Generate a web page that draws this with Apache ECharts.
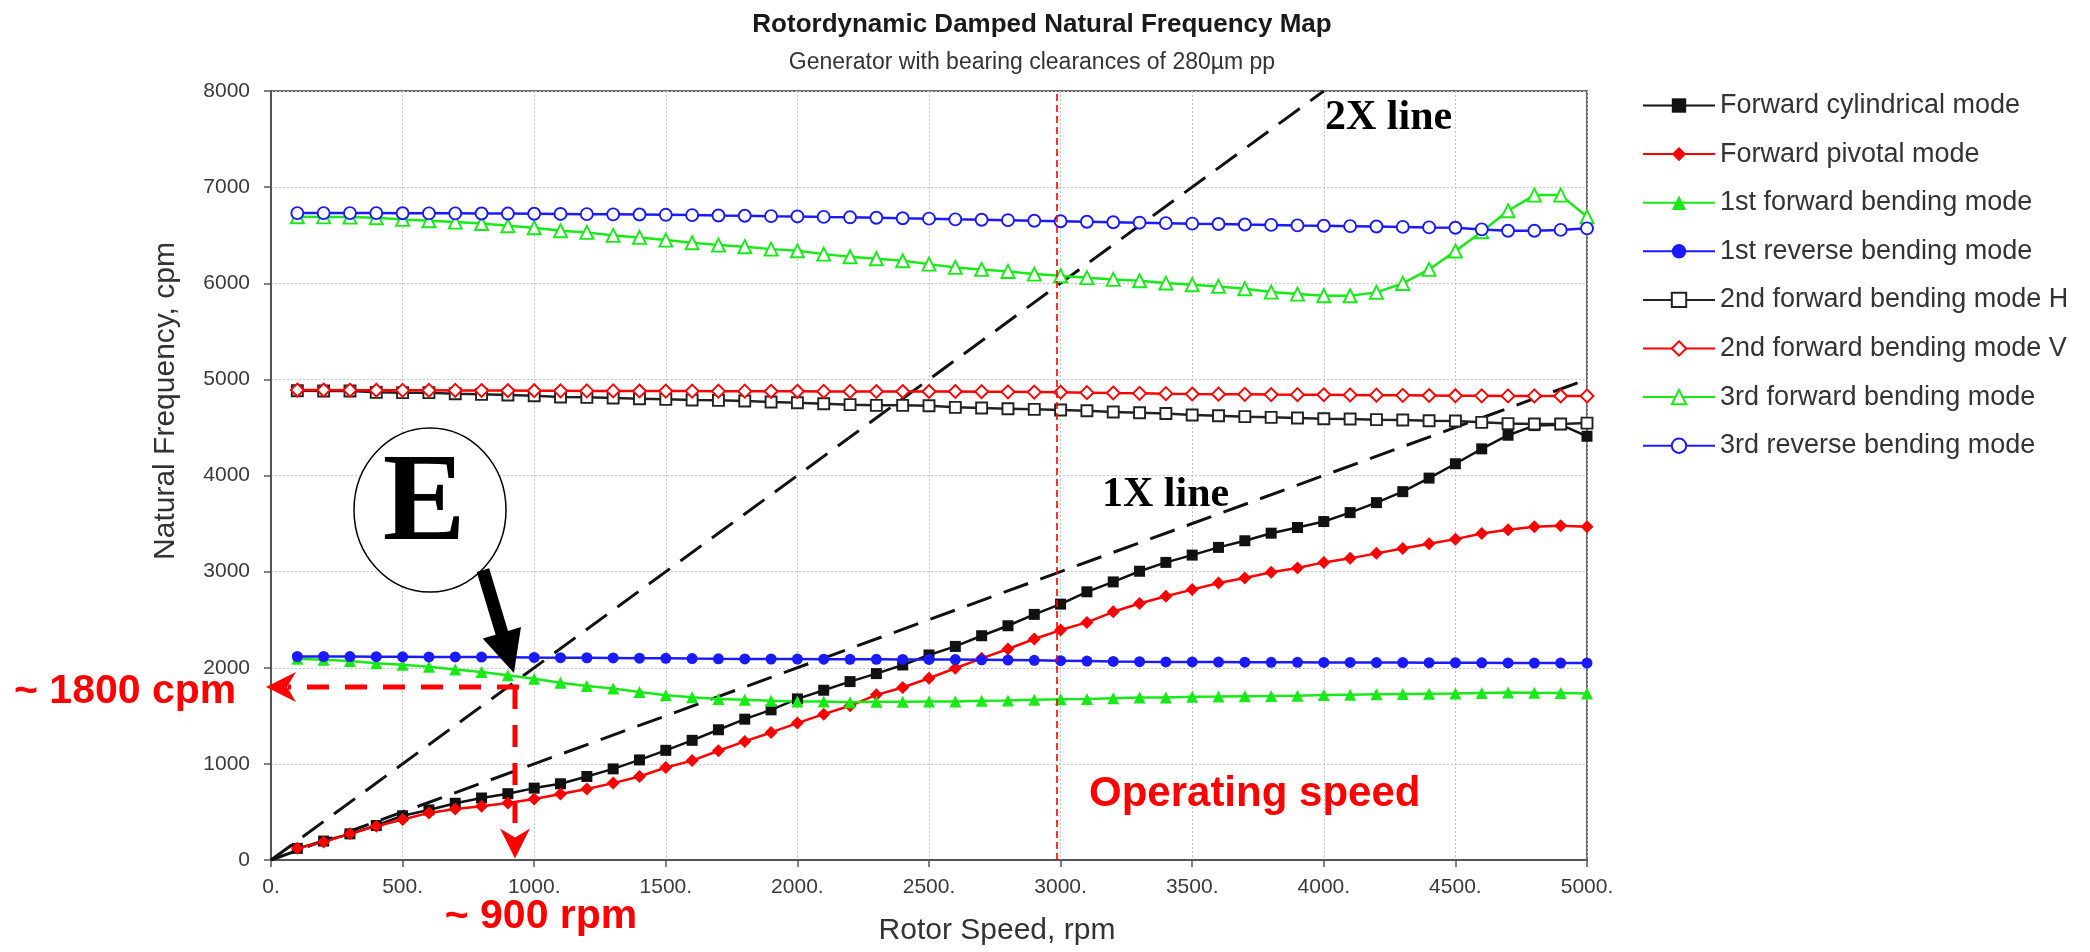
<!DOCTYPE html>
<html>
<head>
<meta charset="utf-8">
<title>Rotordynamic Damped Natural Frequency Map</title>
<script src="https://cdn.jsdelivr.net/npm/echarts@6/dist/echarts.min.js"></script>
<style>
  html, body { margin: 0; padding: 0; background: #fff; }
  #chart { width: 2090px; height: 952px; }
</style>
</head>
<body>
<div id="chart"></div>
<script>
// Rotor speed samples, rpm
const speed = [100, 200, 300, 400, 500, 600, 700, 800, 900, 1000,
  1100, 1200, 1300, 1400, 1500, 1600, 1700, 1800, 1900, 2000,
  2100, 2200, 2300, 2400, 2500, 2600, 2700, 2800, 2900, 3000,
  3100, 3200, 3300, 3400, 3500, 3600, 3700, 3800, 3900, 4000,
  4100, 4200, 4300, 4400, 4500, 4600, 4700, 4800, 4900, 5000];

// Damped natural frequencies, cpm
const fwdCylindrical = [121, 197, 272, 359, 460, 521, 590, 645, 690, 748,
  793, 869, 948, 1041, 1141, 1245, 1355, 1465, 1562, 1676,
  1766, 1856, 1939, 2029, 2133, 2222, 2333, 2437, 2555, 2662,
  2790, 2893, 3004, 3096, 3172, 3252, 3321, 3400, 3459, 3521,
  3614, 3718, 3832, 3973, 4122, 4277, 4419, 4519, 4529, 4408];
const fwdPivotal = [121, 186, 272, 352, 421, 490, 531, 559, 593, 634,
  686, 738, 800, 869, 962, 1034, 1137, 1234, 1327, 1424,
  1517, 1604, 1718, 1794, 1891, 1995, 2098, 2195, 2299, 2392,
  2472, 2582, 2669, 2744, 2813, 2882, 2934, 2993, 3038, 3096,
  3138, 3190, 3241, 3290, 3338, 3397, 3435, 3466, 3476, 3466];
const fwdBending1 = [2093, 2083, 2069, 2048, 2031, 2010, 1983, 1955, 1921, 1886,
  1845, 1810, 1783, 1748, 1714, 1693, 1676, 1666, 1656, 1649,
  1648, 1642, 1645, 1647, 1649, 1650, 1656, 1659, 1666, 1673,
  1676, 1683, 1690, 1691, 1698, 1700, 1703, 1705, 1710, 1716,
  1720, 1724, 1727, 1730, 1733, 1738, 1743, 1740, 1738, 1733];
const revBending1 = [2117, 2117, 2116, 2115, 2114, 2113, 2112, 2111, 2110, 2107,
  2105, 2104, 2102, 2100, 2098, 2095, 2093, 2092, 2091, 2090,
  2089, 2088, 2088, 2087, 2086, 2085, 2083, 2080, 2077, 2074,
  2070, 2066, 2063, 2061, 2060, 2059, 2058, 2057, 2056, 2055,
  2055, 2054, 2054, 2053, 2052, 2051, 2050, 2049, 2049, 2049];
const fwdBending2H = [4882, 4879, 4879, 4865, 4862, 4862, 4851, 4844, 4837, 4830,
  4816, 4813, 4806, 4799, 4792, 4785, 4782, 4775, 4764, 4757,
  4747, 4737, 4730, 4730, 4726, 4709, 4702, 4695, 4688, 4681,
  4674, 4660, 4653, 4645, 4629, 4622, 4612, 4605, 4598, 4591,
  4588, 4581, 4577, 4570, 4567, 4553, 4540, 4535, 4535, 4545];
const fwdBending2V = [4889, 4889, 4888, 4887, 4886, 4886, 4885, 4884, 4883, 4882,
  4881, 4880, 4880, 4879, 4878, 4878, 4877, 4877, 4876, 4876,
  4875, 4875, 4874, 4874, 4874, 4874, 4872, 4870, 4868, 4866,
  4862, 4858, 4855, 4851, 4848, 4846, 4844, 4842, 4841, 4840,
  4838, 4836, 4834, 4832, 4830, 4829, 4828, 4828, 4827, 4827];
const fwdBending3 = [6692, 6690, 6688, 6681, 6664, 6650, 6636, 6622, 6598, 6577,
  6546, 6529, 6498, 6477, 6449, 6421, 6397, 6380, 6355, 6338,
  6303, 6276, 6255, 6234, 6199, 6165, 6144, 6123, 6095, 6078,
  6058, 6040, 6026, 6002, 5985, 5967, 5943, 5908, 5887, 5870,
  5870, 5905, 5998, 6144, 6335, 6536, 6754, 6917, 6917, 6692];
const revBending3 = [6730, 6730, 6730, 6730, 6728, 6727, 6727, 6726, 6725, 6723,
  6721, 6719, 6717, 6715, 6712, 6709, 6705, 6702, 6698, 6695,
  6690, 6686, 6681, 6676, 6672, 6665, 6661, 6656, 6650, 6645,
  6640, 6635, 6630, 6625, 6620, 6616, 6611, 6607, 6602, 6598,
  6594, 6590, 6586, 6581, 6577, 6560, 6546, 6546, 6555, 6571];

// Excitation lines (rpm, cpm)
const line1X = [[0, 0], [5000, 5000]];
const line2X = [[0, 0], [4000, 8000]];

// Operating speed, rpm
const operatingSpeed = 2987;

// Axis ranges and steps
const xTicks = { min: 0, max: 5000, step: 500 };
const yTicks = { min: 0, max: 8000, step: 1000 };

// Crossing of the 1st forward bending mode with the 2X line
const crossing = [927, 1800];
const pointerTip = [923, 1945];

const SANS = "'Liberation Sans', Arial, Helvetica, sans-serif";
const SERIF = "'Liberation Serif', 'Times New Roman', serif";

const RED = '#ff0000';
const GREEN = '#18ea18';
const BLUE = '#1a1aff';
const BLACK = '#111111';

function modeSeries(name, values, color, symbol, size, hollow) {
  return {
    name: name,
    type: 'line',
    data: speed.map((s, i) => [s, values[i]]),
    symbol: symbol,
    symbolSize: size,
    showSymbol: true,
    lineStyle: { color: color, width: 2.5 },
    itemStyle: hollow
      ? { color: '#ffffff', borderColor: color, borderWidth: 1.9 }
      : { color: color, borderColor: color, borderWidth: 0 },
    emphasis: { disabled: true },
    z: 3
  };
}

function guideSeries(points) {
  return {
    type: 'line',
    data: points,
    symbol: 'none',
    lineStyle: { color: BLACK, width: 3, type: [26, 13] },
    emphasis: { disabled: true },
    silent: true,
    z: 2
  };
}

const modes = [
  modeSeries('Forward cylindrical mode', fwdCylindrical, BLACK, 'rect', 11, false),
  modeSeries('Forward pivotal mode', fwdPivotal, RED, 'diamond', 13, false),
  modeSeries('1st forward bending mode', fwdBending1, GREEN, 'triangle', 12, false),
  modeSeries('1st reverse bending mode', revBending1, BLUE, 'circle', 11, false),
  modeSeries('2nd forward bending mode H', fwdBending2H, '#222222', 'rect', 11, true),
  modeSeries('2nd forward bending mode V', fwdBending2V, RED, 'diamond', 13, true),
  modeSeries('3rd forward bending mode', fwdBending3, GREEN, 'triangle', 13, true),
  modeSeries('3rd reverse bending mode', revBending3, BLUE, 'circle', 12, true)
];

const chart = echarts.init(document.getElementById('chart'), null, { renderer: 'canvas' });

chart.setOption({
  animation: false,
  backgroundColor: '#ffffff',
  textStyle: { fontFamily: SANS },
  title: [
    {
      text: 'Rotordynamic Damped Natural Frequency Map',
      left: 1037, top: 7, textAlign: 'center',
      textStyle: { fontFamily: SANS, fontSize: 26, fontWeight: 'bold', color: '#1a1a1a' }
    },
    {
      text: 'Generator with bearing clearances of 280\u00b5m pp',
      left: 1027, top: 46, textAlign: 'center',
      textStyle: { fontFamily: SANS, fontSize: 23, fontWeight: 'normal', color: '#333333' }
    }
  ],
  legend: {
    data: modes.map(s => s.name),
    orient: 'vertical',
    left: 1637, top: 87,
    itemWidth: 72, itemHeight: 18, itemGap: 21.6,
    selectedMode: false,
    textStyle: { fontFamily: SANS, fontSize: 27, color: '#333333' }
  },
  grid: {
    left: 271, right: 503, top: 91, bottom: 92,
    show: true, borderColor: '#6a6a6a', borderWidth: 2, backgroundColor: 'transparent'
  },
  xAxis: {
    type: 'value',
    min: xTicks.min, max: xTicks.max, interval: xTicks.step,
    axisLine: { show: true, onZero: false, lineStyle: { color: '#555555', width: 2 } },
    axisTick: { show: true, length: 7, lineStyle: { color: '#555555', width: 1.5 } },
    axisLabel: { formatter: v => v + '.', fontSize: 21, color: '#3a3a3a', margin: 17, fontFamily: SANS },
    splitLine: { show: true, lineStyle: { color: '#c2c2c2', type: [2, 2], width: 1 } }
  },
  yAxis: {
    type: 'value',
    min: yTicks.min, max: yTicks.max, interval: yTicks.step,
    axisLine: { show: true, onZero: false, lineStyle: { color: '#555555', width: 2 } },
    axisTick: { show: true, length: 7, lineStyle: { color: '#555555', width: 1.5 } },
    axisLabel: { formatter: v => String(v), fontSize: 21, color: '#3a3a3a', margin: 21, fontFamily: SANS },
    splitLine: { show: true, lineStyle: { color: '#c2c2c2', type: [2, 2], width: 1 } }
  },
  series: [
    {
      name: 'Operating speed',
      type: 'line',
      data: [],
      silent: true,
      z: 1,
      markLine: {
        silent: true,
        symbol: 'none',
        label: { show: false },
        lineStyle: { color: RED, type: [7, 4], width: 1.6 },
        data: [{ xAxis: operatingSpeed }]
      }
    },
    guideSeries(line1X),
    guideSeries(line2X)
  ].concat(modes)
});

// Annotations placed through the chart's own coordinate conversion
function px(pt) { return chart.convertToPixel({ gridIndex: 0 }, pt); }

function arrowHead(tip, dir, len, half, notch) {
  const p = [-dir[1], dir[0]];
  const bx = tip[0] - dir[0] * len, by = tip[1] - dir[1] * len;
  return [
    tip,
    [bx + p[0] * half, by + p[1] * half],
    [tip[0] - dir[0] * (len - notch), tip[1] - dir[1] * (len - notch)],
    [bx - p[0] * half, by - p[1] * half]
  ];
}

const corner = px(crossing);
const hTip = px([-19, crossing[1]]);
const vTip = px([crossing[0], 15]);
const tip = px(pointerTip);
const tail = [tip[0] - 31, tip[1] - 103];
const dl = Math.hypot(tip[0] - tail[0], tip[1] - tail[1]);
const d = [(tip[0] - tail[0]) / dl, (tip[1] - tail[1]) / dl];
const n = [-d[1], d[0]];
const shaftHalf = 6.5, headLen = 42, headHalf = 20;
const hb = [tip[0] - d[0] * headLen, tip[1] - d[1] * headLen];

const pointer = [
  [tail[0] + n[0] * shaftHalf, tail[1] + n[1] * shaftHalf],
  [hb[0] + n[0] * shaftHalf, hb[1] + n[1] * shaftHalf],
  [hb[0] + n[0] * headHalf, hb[1] + n[1] * headHalf],
  tip,
  [hb[0] - n[0] * headHalf, hb[1] - n[1] * headHalf],
  [hb[0] - n[0] * shaftHalf, hb[1] - n[1] * shaftHalf],
  [tail[0] - n[0] * shaftHalf, tail[1] - n[1] * shaftHalf]
];

function label(text, x, y, opts) {
  return {
    type: 'text', x: x, y: y, z: 100, silent: true,
    rotation: opts.rotation || 0,
    style: {
      text: text,
      fill: opts.color || '#333333',
      font: opts.font,
      align: opts.align || 'left',
      verticalAlign: 'middle'
    }
  };
}

chart.setOption({
  graphic: [
    // axis titles
    label('Rotor Speed, rpm', 997, 931, { font: '30px ' + SANS, align: 'center', color: '#333333' }),
    label('Natural Frequency, cpm', 166, 401, { font: '30px ' + SANS, align: 'center', color: '#333333', rotation: Math.PI / 2 }),
    // red guide from the crossing point to both axes
    {
      type: 'line', z: 90, silent: true,
      shape: { x1: corner[0] + 4, y1: corner[1], x2: hTip[0] + 22, y2: corner[1] },
      style: { stroke: RED, lineWidth: 5, lineDash: [22, 16] }
    },
    {
      type: 'polygon', z: 90, silent: true,
      shape: { points: arrowHead(hTip, [-1, 0], 30, 15, 9) },
      style: { fill: RED }
    },
    {
      type: 'line', z: 90, silent: true,
      shape: { x1: corner[0], y1: corner[1], x2: corner[0], y2: vTip[1] - 22 },
      style: { stroke: RED, lineWidth: 5, lineDash: [22, 16] }
    },
    {
      type: 'polygon', z: 90, silent: true,
      shape: { points: arrowHead(vTip, [0, 1], 30, 15, 9) },
      style: { fill: RED }
    },
    label('~ 1800 cpm', 14, 692, { font: 'bold 41px ' + SANS, color: RED }),
    label('~ 900 rpm', 541, 917, { font: 'bold 41px ' + SANS, color: RED, align: 'center' }),
    label('Operating speed', 1089, 794, { font: 'bold 42px ' + SANS, color: RED }),
    // excitation line tags
    label('2X line', 1325, 118, { font: 'bold 42px ' + SERIF, color: '#000000' }),
    label('1X line', 1102, 495, { font: 'bold 42px ' + SERIF, color: '#000000' }),
    // callout E
    {
      type: 'ellipse', z: 95, silent: true,
      shape: { cx: 430, cy: 510, rx: 76, ry: 82 },
      style: { fill: '#ffffff', stroke: '#000000', lineWidth: 1.5 }
    },
    label('E', 424, 507, { font: 'bold 124px ' + SERIF, color: '#000000', align: 'center' }),
    {
      type: 'polygon', z: 96, silent: true,
      shape: { points: pointer },
      style: { fill: '#000000' }
    }
  ]
});
</script>
</body>
</html>
